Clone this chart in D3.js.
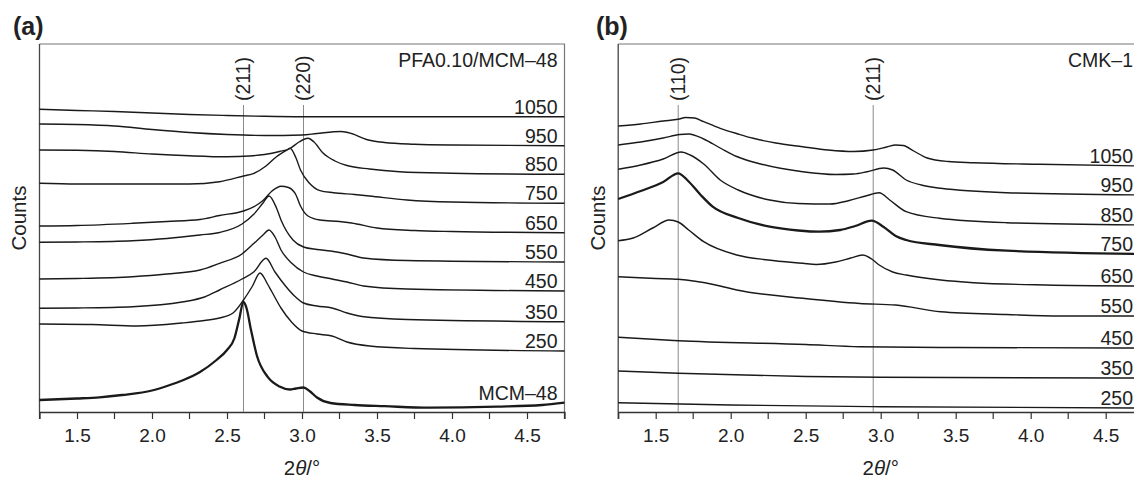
<!DOCTYPE html>
<html>
<head>
<meta charset="utf-8">
<script src="https://cdn.jsdelivr.net/npm/d3@7"></script>
<style>
  body { margin: 0; background: #fff; }
  svg text { font-family: "Liberation Sans", Arial, Helvetica, sans-serif; fill: #222; }
</style>
</head>
<body>
<svg id="chart" width="1134" height="479"></svg>
<script>
// 2theta range and ticks (same for both panels)
var xDomain = [1.25, 4.75];
var majorTicks = [1.5, 2.0, 2.5, 3.0, 3.5, 4.0, 4.5];
var minorTicks = [1.25, 1.75, 2.25, 2.75, 3.25, 3.75, 4.25, 4.75];

// panel (a): PFA0.10/MCM-48, counts in arbitrary (stacked) units
var labelsA = ["1050", "950", "850", "750", "650", "550", "450", "350", "250", "MCM–48"];
var a1050 = [[1.25,302.7],[1.5,301.5],[1.75,300.5],[2.0,299],[2.25,297.5],[2.5,296.5],[2.75,295.7],[3.0,295.3],[3.75,295.3],[4.75,295.3]];
var a950 = [[1.25,288],[1.5,287.5],[1.75,286],[2.0,282.5],[2.25,279.5],[2.5,277.5],[2.75,276.5],[3.0,277],[3.1,278.5],[3.26,280.5],[3.33,278.5],[3.43,272.5],[3.55,269.5],[3.75,267.8],[4.0,267],[4.75,266.3]];
var a850 = [[1.25,262],[1.5,261.7],[1.75,260.5],[2.0,258],[2.25,256.2],[2.5,255.2],[2.65,256],[2.75,257.5],[2.85,260.5],[2.92,263.5],[2.98,270],[3.04,273.7],[3.08,270],[3.14,259],[3.22,251],[3.3,246.5],[3.45,243],[3.65,240.3],[4.0,238.8],[4.75,237.7]];
var a750 = [[1.25,228.7],[1.5,228],[1.75,228],[2.0,228],[2.25,228],[2.45,230.3],[2.61,236],[2.68,238.7],[2.76,246],[2.83,255.3],[2.9,262],[2.92,263.7],[2.96,254],[2.99,242],[3.05,228.7],[3.12,221.3],[3.21,219.3],[3.35,217.5],[3.45,216],[3.7,212],[4.0,210],[4.75,208.7]];
var a650 = [[1.25,186],[1.5,186.5],[1.87,188.7],[2.1,190.5],[2.32,192.5],[2.45,196.5],[2.61,201],[2.68,205.3],[2.74,211.5],[2.8,221],[2.86,225.8],[2.91,224.5],[2.96,217],[2.99,206],[3.04,196],[3.12,192],[3.25,190.5],[3.33,189],[3.5,184],[3.75,181.5],[4.0,180.5],[4.75,179.3]];
var a550 = [[1.25,169.7],[1.5,170],[1.87,171.3],[2.1,173.5],[2.32,177],[2.45,179.5],[2.6,188],[2.68,198],[2.74,209],[2.78,216],[2.83,204],[2.86,192],[2.94,172],[3.01,165],[3.1,162.5],[3.19,161],[3.3,158],[3.41,154],[3.7,151.5],[4.75,150]];
var a450 = [[1.25,133],[1.5,133.5],[1.87,135.3],[2.1,138],[2.32,142],[2.45,148.7],[2.6,158],[2.68,168.7],[2.74,177],[2.78,182],[2.82,175],[2.86,162],[2.93,149],[3.01,140],[3.1,136],[3.2,133],[3.3,130],[3.41,126],[3.7,123],[4.75,121]];
var a350 = [[1.25,103.7],[1.5,104],[1.87,105.3],[2.2,110],[2.35,115],[2.45,122],[2.6,133],[2.68,140.3],[2.76,153.7],[2.82,140],[2.89,126],[2.95,116],[3.01,109],[3.1,106],[3.2,104],[3.3,99],[3.4,95.5],[3.7,92.5],[4.75,90.3]];
var a250 = [[1.25,88],[1.6,87.5],[1.9,86],[2.2,89],[2.35,91.5],[2.45,94],[2.54,99],[2.61,112],[2.67,126],[2.72,139],[2.77,128],[2.8,120],[2.86,104],[2.93,90],[3.0,81],[3.1,78],[3.2,76],[3.3,70],[3.45,66],[3.75,63.5],[4.75,61]];
var aMCM = [[1.25,12],[1.5,13.5],[1.65,14.7],[1.8,17],[2.0,21.5],[2.1,26],[2.21,32],[2.32,40],[2.43,52],[2.5,62],[2.55,74],[2.58,92],[2.61,110],[2.63,104],[2.66,82],[2.7,56],[2.77,35.3],[2.85,25.5],[2.92,22.5],[2.96,23.5],[3.01,24.5],[3.05,21],[3.1,14.5],[3.19,9],[3.35,7],[3.55,5.8],[3.85,4.3],[4.3,5.3],[4.6,7],[4.75,9.3]];
var seriesA = [a1050, a950, a850, a750, a650, a550, a450, a350, a250, aMCM];
var boldA = ["MCM–48"];
var refA = [{hkl: "(211)", x: 2.61}, {hkl: "(220)", x: 3.01}];

// panel (b): CMK-1
var labelsB = ["1050", "950", "850", "750", "650", "550", "450", "350", "250"];
var b1050 = [[1.25,286],[1.4,288],[1.55,291],[1.65,292.7],[1.7,294.5],[1.76,294],[1.82,290.3],[1.93,283.7],[2.05,278],[2.15,273.7],[2.3,269],[2.48,265.3],[2.65,262],[2.82,260.5],[2.95,262],[3.04,265],[3.1,267],[3.15,266.5],[3.22,261],[3.31,254],[3.45,250.5],[3.62,249.3],[4.06,247.7],[4.75,246]];
var b950 = [[1.25,267],[1.4,270],[1.55,274],[1.66,277.5],[1.72,278],[1.82,273],[1.93,264],[2.04,255.5],[2.2,248],[2.48,240.3],[2.7,237.5],[2.82,238],[2.91,240.3],[3.02,244],[3.08,242],[3.17,232],[3.27,227],[3.4,223.7],[3.84,219.3],[4.75,217]];
var b850 = [[1.25,242.7],[1.4,247],[1.55,253],[1.67,260],[1.73,257],[1.82,248],[1.93,232],[2.05,222],[2.26,212],[2.45,208.5],[2.66,208],[2.79,211.5],[2.9,216],[2.99,219.3],[3.06,212],[3.17,200.3],[3.39,193.7],[3.84,189.3],[4.75,187]];
var b750 = [[1.25,213],[1.4,221],[1.55,230],[1.65,238.7],[1.71,232],[1.8,217],[1.88,205.3],[2.05,194],[2.26,185.3],[2.45,181.5],[2.59,180.3],[2.73,182],[2.83,186],[2.94,191.3],[3.02,185],[3.1,176],[3.17,172],[3.39,167],[3.84,161.3],[4.75,158]];
var b650 = [[1.25,171.3],[1.35,174],[1.48,184],[1.59,192],[1.65,190],[1.72,182],[1.82,170.3],[2.04,157],[2.25,152],[2.48,148.7],[2.57,147.5],[2.7,150],[2.8,154],[2.88,157],[2.94,153],[2.99,147],[3.08,140],[3.17,137],[3.4,132],[3.62,129.3],[4.1,127],[4.75,126]];
var b550 = [[1.25,135.3],[1.5,133.5],[1.65,132.7],[1.9,127],[2.04,122],[2.48,113.7],[2.86,108.5],[3.1,107],[3.4,100.3],[3.84,97.5],[4.2,96],[4.75,96]];
var b450 = [[1.25,74.7],[1.65,71.3],[2.5,67.5],[2.86,65.3],[3.5,64.5],[4.75,64]];
var b350 = [[1.25,41],[1.65,38.7],[2.5,35.5],[3.0,34.7],[4.75,34]];
var b250 = [[1.25,9.3],[2.0,7],[3.0,5.3],[4.75,4]];
var seriesB = [b1050, b950, b850, b750, b650, b550, b450, b350, b250];
var boldB = ["750"];
var refB = [{hkl: "(110)", x: 1.65}, {hkl: "(211)", x: 2.95}];

var svg = d3.select("#chart");
var W = +svg.attr("width");
var plotTop = 44, plotBottom = 412;

function drawPanel(opt) {
    var g = svg.append("g");
    var x = d3.scaleLinear().domain(xDomain).range([opt.left, opt.left + 525]);
    var y = d3.scaleLinear().domain([0, 368]).range([plotBottom, plotTop]);
    // labels sit at the right edge, kept inside the page
    var labelX = Math.min(x(xDomain[1]) - 7, W - 1);

    // frame: top + right in gray
    g.append("path")
        .attr("d", "M" + opt.left + "," + plotTop + "H" + x(xDomain[1]) + "V" + plotBottom)
        .attr("fill", "none").attr("stroke", "#777").attr("stroke-width", 1.2);
    g.append("line")
        .attr("x1", opt.left).attr("x2", opt.left)
        .attr("y1", plotTop).attr("y2", plotBottom)
        .attr("stroke", "#444").attr("stroke-width", 1.3);

    // bottom axis with major labels, minor ticks without
    var ax = g.append("g")
        .attr("transform", "translate(0," + plotBottom + ")")
        .call(d3.axisBottom(x).tickValues(majorTicks).tickFormat(d3.format(".1f"))
              .tickSize(7).tickPadding(10));
    ax.select(".domain").attr("stroke", "#333").attr("stroke-width", 1.3);
    ax.selectAll(".tick line").attr("stroke", "#333").attr("stroke-width", 1.2);
    ax.selectAll("text").attr("font-size", 19).attr("fill", "#222")
        .style("font-family", "'Liberation Sans', Arial, sans-serif");
    g.append("g")
        .attr("transform", "translate(0," + plotBottom + ")")
        .selectAll("line").data(minorTicks).enter().append("line")
        .attr("x1", function(d) { return x(d); })
        .attr("x2", function(d) { return x(d); })
        .attr("y1", 0).attr("y2", 7)
        .attr("stroke", "#333").attr("stroke-width", 1.2);

    // reference lines for the reflections
    g.selectAll(".ref").data(opt.refs).enter().append("line")
        .attr("x1", function(d) { return x(d.x); })
        .attr("x2", function(d) { return x(d.x); })
        .attr("y1", 105).attr("y2", plotBottom)
        .attr("stroke", "#8a8a8a").attr("stroke-width", 1);
    g.selectAll(".hkl").data(opt.refs).enter().append("text")
        .attr("transform", function(d) { return "translate(" + x(d.x) + ",101) rotate(-90)"; })
        .attr("dy", "0.35em")
        .attr("font-size", 19.5)
        .text(function(d) { return d.hkl; });

    var line = d3.line()
        .x(function(d) { return x(d[0]); })
        .y(function(d) { return y(d[1]); })
        .curve(d3.curveMonotoneX);

    opt.series.forEach(function(s, i) {
        var name = opt.labels[i];
        var thick = opt.bold.indexOf(name) >= 0;
        g.append("path")
            .datum(s)
            .attr("d", line)
            .attr("fill", "none")
            .attr("stroke", "#1a1a1a")
            .attr("stroke-width", thick ? 2.3 : 1.4)
            .attr("stroke-linejoin", "round");
        g.append("text")
            .attr("x", labelX)
            .attr("y", y(s[s.length - 1][1]) - 3)
            .attr("text-anchor", "end")
            .attr("font-size", 19.5)
            .text(name);
    });

    // sample name
    g.append("text")
        .attr("x", labelX).attr("y", 67)
        .attr("text-anchor", "end").attr("font-size", 19.5)
        .text(opt.sample);

    // panel letter
    g.append("text")
        .attr("x", opt.letterX).attr("y", 35)
        .attr("font-size", 25).attr("font-weight", "bold")
        .text(opt.letter);

    // axis titles
    g.append("text")
        .attr("transform", "translate(" + opt.countsX + ",218) rotate(-90)")
        .attr("text-anchor", "middle").attr("dy", "0.35em")
        .attr("font-size", 20.5)
        .text("Counts");
    var xt = g.append("text")
        .attr("x", (x(xDomain[0]) + x(xDomain[1])) / 2).attr("y", 475)
        .attr("text-anchor", "middle").attr("font-size", 20.5);
    xt.append("tspan").attr("font-style", "normal").text("2");
    xt.append("tspan").attr("font-style", "italic").text("θ");
    xt.append("tspan").attr("font-style", "normal").text("/°");
}

drawPanel({left: 39.5, series: seriesA, labels: labelsA, bold: boldA, refs: refA,
           sample: "PFA0.10/MCM–48", letter: "(a)", letterX: 13, countsX: 19});
drawPanel({left: 618.2, series: seriesB, labels: labelsB, bold: boldB, refs: refB,
           sample: "CMK–1", letter: "(b)", letterX: 596, countsX: 598});
</script>
</body>
</html>
